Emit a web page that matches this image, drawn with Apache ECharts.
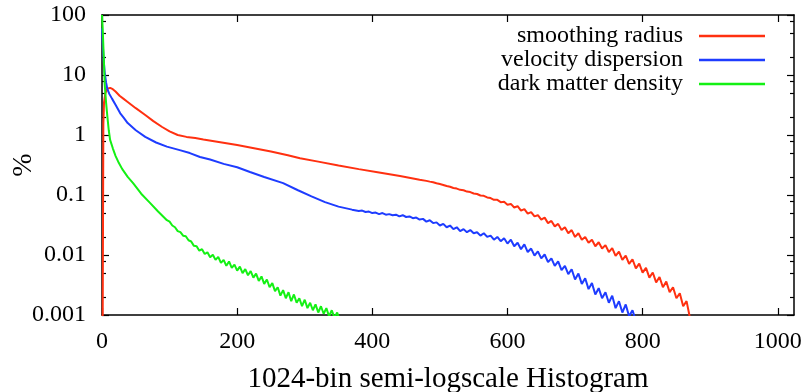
<!DOCTYPE html>
<html>
<head>
<meta charset="utf-8">
<script src="https://cdn.jsdelivr.net/npm/echarts@6/dist/echarts.min.js"></script>
<style>html,body{margin:0;padding:0;background:#fff}#c{width:806px;height:392px}</style>
</head>
<body>
<div id="c"></div>
<script>
const seriesNames = ['smoothing radius', 'velocity dispersion', 'dark matter density'];
const xTicks = [0, 200, 400, 600, 800, 1000];
const yTicks = [0.001, 0.01, 0.1, 1, 10, 100];
const yTickLabels = ['0.001', '0.01', '0.1', '1', '10', '100'];
const yMinorTicks = [0.002, 0.005, 0.008, 0.02, 0.05, 0.08, 0.2, 0.5, 0.8, 2, 5, 8, 20, 50, 80];

const redX = [0, 1, 2, 3, 5, 8, 12, 16, 20, 26, 32, 38, 50, 64, 76, 89, 100, 112, 125, 138, 150, 175, 200, 225, 250, 275, 293, 320, 350, 380, 410, 441, 470,
  480, 485, 490, 495, 500, 505, 510, 515, 520, 525, 530, 535, 540, 545, 550, 555, 560, 565, 570, 575, 580, 585, 590, 595,
  600, 605, 610, 615, 620, 625, 630, 635, 640, 645, 650, 655, 660, 665, 670, 675, 680, 685, 690, 695,
  700, 705, 710, 715, 720, 725, 730, 735, 740, 745, 750, 755, 760, 765, 770, 775, 780, 785, 790, 795,
  800, 805, 810, 815, 820, 825, 830, 835, 840, 845, 850, 855, 860, 865, 870];
const redY = [0.0002, 0.0008, 1.5, 3.5, 5.0, 5.9, 6.1, 5.8, 5.3, 4.5, 4.0, 3.55, 2.8, 2.15, 1.7, 1.36, 1.15, 1.0, 0.93, 0.89, 0.84, 0.76, 0.68, 0.6, 0.53, 0.46, 0.41, 0.36, 0.31, 0.27, 0.237, 0.207, 0.18,
  0.172, 0.167, 0.163, 0.157, 0.152, 0.147, 0.141, 0.137, 0.131, 0.128, 0.122, 0.120, 0.114, 0.112, 0.106, 0.104, 0.098, 0.097, 0.091, 0.089, 0.083, 0.083, 0.076, 0.077,
  0.069, 0.071, 0.062, 0.065, 0.055, 0.058, 0.049, 0.052, 0.044, 0.046, 0.039, 0.042, 0.034, 0.037, 0.030, 0.033, 0.026, 0.029, 0.023, 0.026,
  0.020, 0.023, 0.018, 0.020, 0.016, 0.018, 0.014, 0.0163, 0.0128, 0.0146, 0.0112, 0.0130, 0.0097, 0.0114, 0.0083, 0.0098, 0.0071, 0.0085, 0.0060, 0.0072,
  0.0051, 0.0061, 0.0042, 0.0051, 0.0035, 0.0043, 0.0029, 0.0036, 0.0024, 0.0029, 0.0019, 0.0023, 0.0014, 0.0017, 0.0009];

const blueX = [0, 1, 2, 3, 4, 6, 8, 11, 15, 20, 27, 32, 38, 50, 64, 80, 96, 115, 130, 145, 160, 180, 200, 219, 240, 268, 290, 310, 330, 350, 370,
  380, 385, 390, 395, 400, 405, 410, 415, 420, 425, 430, 435, 440, 445, 450, 455, 460, 465, 470, 475, 480, 485, 490, 495,
  500, 505, 510, 515, 520, 525, 530, 535, 540, 545, 550, 555, 560, 565, 570, 575, 580, 585, 590, 595,
  600, 605, 610, 615, 620, 625, 630, 635, 640, 645, 650, 655, 660, 665, 670, 675, 680, 685, 690, 695,
  700, 705, 710, 715, 720, 725, 730, 735, 740, 745, 750, 755, 760, 765, 770, 775, 780, 785, 790];
const blueY = [60, 35, 22, 15, 11, 7.5, 5.8, 4.8, 4.0, 3.2, 2.3, 1.95, 1.58, 1.2, 0.93, 0.75, 0.64, 0.56, 0.5, 0.43, 0.39, 0.33, 0.29, 0.242, 0.2, 0.158, 0.12, 0.095, 0.076, 0.064, 0.057,
  0.054, 0.055, 0.052, 0.053, 0.050, 0.051, 0.048, 0.050, 0.047, 0.048, 0.046, 0.047, 0.044, 0.046, 0.043, 0.044, 0.041, 0.042, 0.039, 0.040, 0.036, 0.038, 0.034, 0.035,
  0.031, 0.033, 0.029, 0.031, 0.027, 0.029, 0.025, 0.027, 0.024, 0.026, 0.023, 0.024, 0.021, 0.023, 0.020, 0.021, 0.018, 0.020, 0.017, 0.019,
  0.0155, 0.018, 0.014, 0.016, 0.0125, 0.015, 0.0112, 0.0128, 0.0098, 0.0115, 0.0088, 0.0102, 0.0076, 0.0088, 0.0066, 0.0078, 0.0056, 0.0066, 0.0048, 0.0058,
  0.0039, 0.0049, 0.0033, 0.0041, 0.0027, 0.0034, 0.0022, 0.0028, 0.0019, 0.0024, 0.0016, 0.0021, 0.0013, 0.0017, 0.0011, 0.0015, 0.00095, 0.0012, 0.0008];

const greenX = [0, 1, 2, 3, 4, 6, 8, 10, 12, 16, 20, 25, 30, 38, 46, 58, 71, 83, 96,
  100, 104, 108, 112, 116, 120, 124, 128, 132, 136, 140, 144, 148, 152, 156, 160, 164, 168, 172, 176, 180, 184, 188, 192, 196,
  200, 204, 208, 212, 216, 220, 224, 228, 232, 236, 240, 244, 248, 252, 256, 260, 264, 268, 272, 276, 280, 284, 288, 292, 296,
  300, 304, 308, 312, 316, 320, 324, 328, 332, 336, 340, 344, 348, 352];
const greenY = [100, 60, 30, 15, 7, 3.5, 2.0, 1.2, 0.83, 0.6, 0.45, 0.34, 0.27, 0.2, 0.158, 0.105, 0.074, 0.053, 0.038,
  0.036, 0.031, 0.029, 0.025, 0.024, 0.021, 0.0205, 0.0176, 0.0168, 0.0142, 0.0140, 0.0118, 0.0125, 0.0104, 0.0111, 0.0092, 0.0101, 0.0083, 0.0093, 0.0074, 0.0083, 0.0066, 0.0078, 0.0061, 0.0069,
  0.0055, 0.0064, 0.0050, 0.0058, 0.0046, 0.0054, 0.0042, 0.0049, 0.0037, 0.0044, 0.0033, 0.0039, 0.0029, 0.0034, 0.0025, 0.0029, 0.0021, 0.0026, 0.0019, 0.0024, 0.0017, 0.0022, 0.0016, 0.0019, 0.0014,
  0.0018, 0.0013, 0.0016, 0.0012, 0.0015, 0.0011, 0.0014, 0.00105, 0.0013, 0.00095, 0.0012, 0.0009, 0.0011, 0.0008];

const colors = ['#ff3010', '#1e3cff', '#14f014'];
const FONT = '"Liberation Serif", "DejaVu Serif", serif';

function zip(xs, ys) { return xs.map((x, i) => [x, ys[i]]); }

const chart = echarts.init(document.getElementById('c'), null, { renderer: 'canvas' });

const yBase = { type: 'log', logBase: 10, min: 0.001, max: 100, splitLine: { show: false } };
const xBase = { type: 'value', min: 0, max: 1024, splitLine: { show: false } };
const lineBlack = { show: true, lineStyle: { color: '#000', width: 1.5 } };

const legends = seriesNames.map((n, i) => ({
  data: [n],
  right: 36,
  top: 19 + i * 24,
  align: 'right',
  icon: 'rect',
  itemWidth: 66,
  itemHeight: 2.5,
  textStyle: { fontFamily: FONT, fontSize: 24, color: '#000', padding: [0, 11, 0, 0] }
}));

chart.setOption({
  animation: false,
  color: colors,
  grid: { left: 102, right: 12, top: 15, bottom: 77, containLabel: false, outerBoundsMode: 'none' },
  legend: legends,
  xAxis: [
    Object.assign({}, xBase, {
      position: 'bottom',
      name: '1024-bin semi-logscale Histogram',
      nameLocation: 'middle',
      nameGap: 50,
      nameMoveOverlap: false,
      nameTextStyle: { fontFamily: FONT, fontSize: 29, color: '#000' },
      axisLine: lineBlack,
      axisTick: { show: true, inside: true, length: 7, customValues: xTicks, lineStyle: { color: '#000', width: 1.2 } },
      axisLabel: { show: true, customValues: xTicks, margin: 15, fontFamily: FONT, fontSize: 24, color: '#000', formatter: v => String(v) }
    }),
    Object.assign({}, xBase, {
      position: 'top',
      axisLine: lineBlack,
      axisTick: { show: true, inside: true, length: 7, customValues: xTicks, lineStyle: { color: '#000', width: 1.2 } },
      axisLabel: { show: false }
    })
  ],
  yAxis: [
    Object.assign({}, yBase, {
      position: 'left',
      name: '%',
      nameLocation: 'middle',
      nameGap: 64,
      nameMoveOverlap: false,
      nameRotate: 90,
      nameTextStyle: { fontFamily: FONT, fontSize: 28, color: '#000' },
      axisLine: lineBlack,
      axisTick: { show: true, inside: true, length: 7, customValues: yTicks, lineStyle: { color: '#000', width: 1.2 } },
      axisLabel: {
        show: true, customValues: yTicks, margin: 16, fontFamily: FONT, fontSize: 24, color: '#000',
        formatter: function (v) { const i = yTicks.findIndex(t => Math.abs(Math.log10(t) - Math.log10(v)) < 1e-6); return i >= 0 ? yTickLabels[i] : ''; }
      }
    }),
    Object.assign({}, yBase, {
      position: 'left',
      axisLine: { show: false },
      axisTick: { show: true, inside: true, length: 4, customValues: yMinorTicks, lineStyle: { color: '#000', width: 1.2 } },
      axisLabel: { show: false }
    }),
    Object.assign({}, yBase, {
      position: 'right',
      axisLine: lineBlack,
      axisTick: { show: true, inside: true, length: 7, customValues: yTicks, lineStyle: { color: '#000', width: 1.2 } },
      axisLabel: { show: false }
    }),
    Object.assign({}, yBase, {
      position: 'right',
      axisLine: { show: false },
      axisTick: { show: true, inside: true, length: 4, customValues: yMinorTicks, lineStyle: { color: '#000', width: 1.2 } },
      axisLabel: { show: false }
    })
  ],
  series: [
    { name: seriesNames[0], type: 'line', data: zip(redX, redY) },
    { name: seriesNames[1], type: 'line', data: zip(blueX, blueY) },
    { name: seriesNames[2], type: 'line', data: zip(greenX, greenY) }
  ].map(s => Object.assign(s, {
    xAxisIndex: 0, yAxisIndex: 0, showSymbol: false, symbol: 'none', clip: true,
    lineStyle: { width: 2 }, emphasis: { disabled: true }, z: 1
  }))
});
</script>
</body>
</html>
